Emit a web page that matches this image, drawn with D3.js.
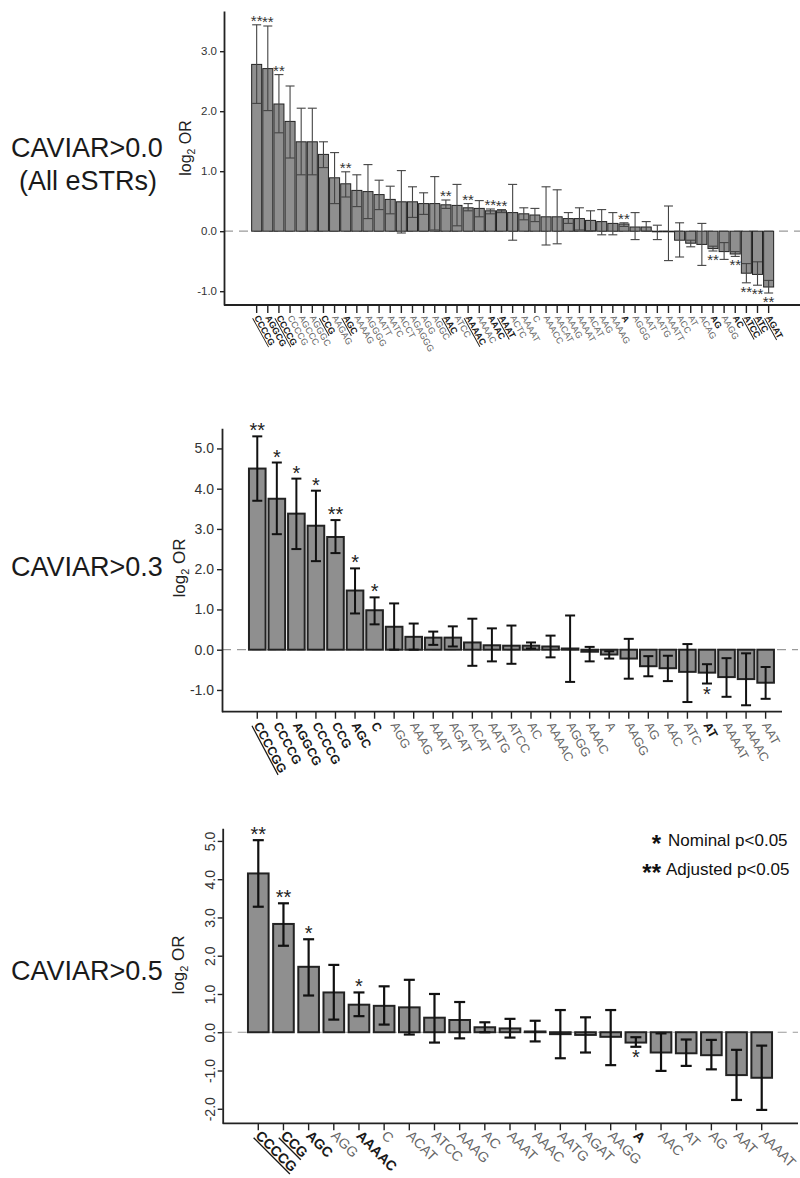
<!DOCTYPE html>
<html>
<head>
<meta charset="utf-8">
<script src="https://d3js.org/d3.v7.min.js"></script>
<style>
  body { margin: 0; background: #fff; }
  svg { font-family: "Liberation Sans", Arial, sans-serif; }
</style>
</head>
<body>
<script>
// ---- data ----
// emph: 0 plain, 1 bold, 2 bold + underlined ; sig: 1 = nominal (*), 2 = adjusted (**)
var p1Labels = ["CCCCG","AGGCG","CCCCG","CCCCG","AGCCC","AGGGC","CCG","AAGAG","AGC","AAAAG","AGGGG","AATT","AATC","ACCT","AGAGGG","AGG","AGGC","AAC","ATCC","AAAAC","AAAAC","AAAC","AAAT","ACTC","AAAAT","C","AAACC","AACAT","AAAG","AAAAT","ACAT","AAG","AAAAG","A","AGGG","AAT","AATG","AAATT","ACC","AT","ACAG","AG","AAGG","AC","ATCC","ATC","AGAT"]
var p1Values = [2.78,2.71,2.12,1.83,1.49,1.49,1.28,0.89,0.79,0.68,0.66,0.61,0.53,0.49,0.49,0.46,0.46,0.44,0.43,0.39,0.38,0.34,0.34,0.31,0.29,0.27,0.24,0.24,0.21,0.21,0.18,0.16,0.13,0.12,0.07,0.07,-0.01,-0.01,-0.15,-0.2,-0.22,-0.29,-0.34,-0.38,-0.7,-0.72,-0.93]
var p1Lo = [2.13,2.01,1.64,1.22,0.94,0.94,1.06,0.46,0.57,0.41,0.21,0.36,0.29,-0.03,0.23,0.28,0.02,0.38,0.09,0.34,0.24,0.29,0.31,-0.15,0.19,0.16,-0.23,-0.21,0.13,0.02,0.01,-0.06,-0.06,0.08,-0.14,0,-0.14,-0.49,-0.43,-0.26,-0.57,-0.33,-0.47,-0.42,-0.86,-0.9,-1.03]
var p1Hi = [3.44,3.42,2.61,2.42,2.05,2.05,1.49,1.31,0.99,0.94,1.11,0.85,0.75,1.01,0.74,0.64,0.91,0.52,0.78,0.46,0.51,0.37,0.36,0.78,0.39,0.38,0.74,0.69,0.31,0.39,0.34,0.36,0.31,0.14,0.31,0.16,0.1,0.42,0.14,-0.15,0.13,-0.25,-0.19,-0.34,-0.54,-0.51,-0.82]
var p1Sig = [2,2,2,0,0,0,0,0,2,0,0,0,0,0,0,0,0,2,0,2,0,2,2,0,0,0,0,0,0,0,0,0,0,2,0,0,0,0,0,0,0,2,0,2,2,2,2]
var p1Emph = [2,1,2,0,0,0,2,0,2,0,0,0,0,0,0,0,0,2,0,2,0,1,2,0,0,0,0,0,0,0,0,0,0,1,0,0,0,0,0,0,0,1,0,1,2,2,2]

var p2Labels = ["CCCCGG","CCCCG","AGGCG","CCCCG","CCG","AGC","C","AGG","AAAG","AAAT","AGAT","ACAT","AATG","ATCC","AC","AAAAC","AGGG","AAAC","A","AAGG","AG","AAC","ATC","AT","AAAAT","AAAAC","AAT"]
var p2Values = [4.5,3.75,3.38,3.08,2.8,1.47,0.98,0.57,0.32,0.3,0.3,0.18,0.11,0.1,0.1,0.08,0.03,-0.05,-0.12,-0.22,-0.41,-0.46,-0.55,-0.57,-0.68,-0.73,-0.82]
var p2Lo = [3.7,2.87,2.5,2.2,2.4,0.9,0.63,0,0,0.12,0.08,-0.4,-0.29,-0.35,0.03,-0.19,-0.8,-0.29,-0.22,-0.72,-0.66,-0.78,-1.3,-0.84,-1.17,-1.38,-1.22]
var p2Hi = [5.3,4.65,4.25,3.95,3.22,2.02,1.3,1.15,0.65,0.45,0.58,0.77,0.53,0.6,0.18,0.35,0.85,0.07,-0.04,0.27,-0.16,-0.15,0.14,-0.36,-0.21,-0.09,-0.43]
var p2Sig = [2,1,1,1,2,1,1,0,0,0,0,0,0,0,0,0,0,0,0,0,0,0,0,1,0,0,0]
var p2Emph = [2,1,1,1,1,1,1,0,0,0,0,0,0,0,0,0,0,0,0,0,0,0,0,1,0,0,0]

var p3Labels = ["CCCCG","CCG","AGC","AGG","AAAAC","C","ACAT","ATCC","AAAG","AC","AAAT","AAAC","AATG","AGAT","AAGG","A","AAC","AT","AG","AAT","AAAAT"]
var p3Values = [4.15,2.83,1.71,1.04,0.72,0.69,0.65,0.38,0.32,0.13,0.1,0.02,-0.05,-0.07,-0.12,-0.27,-0.53,-0.55,-0.6,-1.12,-1.19]
var p3Lo = [3.28,2.26,0.96,0.33,0.42,0.2,-0.06,-0.27,-0.16,0,-0.14,-0.24,-0.68,-0.53,-0.86,-0.38,-1.01,-0.88,-0.97,-1.77,-2.03]
var p3Hi = [5.02,3.37,2.43,1.76,1.04,1.2,1.37,1.0,0.79,0.26,0.35,0.3,0.58,0.39,0.58,-0.13,-0.03,-0.19,-0.2,-0.46,-0.35]
var p3Sig = [2,2,1,0,1,0,0,0,0,0,0,0,0,0,0,1,0,0,0,0,0]
var p3Emph = [2,2,1,0,1,0,0,0,0,0,0,0,0,0,0,1,0,0,0,0,0]

var yTicks1 = [-1, 0, 1, 2, 3]
var yTicks2 = [-1, 0, 1, 2, 3, 4, 5]
var yTicks3 = [-2, -1, 0, 1, 2, 3, 4, 5]

var legendStars = ["*", "**"]
var legendText = ["Nominal p<0.05", "Adjusted p<0.05"]

// ---- layout ----
var svg = d3.select("body").append("svg")
    .attr("width", 800)
    .attr("height", 1178)

var panels = [
  { labels: p1Labels, values: p1Values, lo: p1Lo, hi: p1Hi, sig: p1Sig, emph: p1Emph, yticks: yTicks1,
    ax: 224, xr: [251.1, 774.2], pad: 0.1, yd: [-1.23, 3.67], yr: [305, 11],
    xEnd: 800, dashEnd: 800, tickFont: 11.5, yTick: 4, xTick: 8, labFont: 9, rot: 61, labY: 316,
    errColor: "#444", errW: 1.1, cap: 9, starFont: 15, starColor: "#333", barStroke: 1,
    rotY: false, titleX: 185, titleY: 148, titleFont: 16,
    names: ["CAVIAR>0.0", "(All eSTRs)"], nameY: 157 },
  { labels: p2Labels, values: p2Values, lo: p2Lo, hi: p2Hi, sig: p2Sig, emph: p2Emph, yticks: yTicks2,
    ax: 222, xr: [247.5, 775.4], pad: 0.15, yd: [-1.54, 5.5], yr: [711.7, 428.3],
    xEnd: 782, dashEnd: 798, tickFont: 14, yTick: 5, xTick: 7, labFont: 12.5, rot: 62, labY: 723,
    errColor: "#111", errW: 2, cap: 10, starFont: 20, starColor: "#222", barStroke: 2,
    rotY: false, titleX: 179, titleY: 568, titleFont: 17,
    names: ["CAVIAR>0.3"], nameY: 576 },
  { labels: p3Labels, values: p3Values, lo: p3Lo, hi: p3Hi, sig: p3Sig, emph: p3Emph, yticks: yTicks3,
    ax: 222.7, xr: [245.7, 774.3], pad: 0.18, yd: [-2.38, 5.33], yr: [1123.3, 828.3],
    xEnd: 798, dashEnd: 798, tickFont: 14, yTick: 5, xTick: 7, labFont: 14, rot: 45, labY: 1133,
    errColor: "#111", errW: 2.2, cap: 11, starFont: 20, starColor: "#222", barStroke: 2,
    rotY: true, titleX: 178, titleY: 965, titleFont: 17,
    names: ["CAVIAR>0.5"], nameY: 980 }
]

panels.forEach(drawPanel)

function drawPanel(p) {
  var idx = d3.range(p.labels.length)
  var x = d3.scaleBand().domain(idx).range(p.xr).paddingInner(p.pad).paddingOuter(p.pad / 2)
  var y = d3.scaleLinear().domain(p.yd).range(p.yr)
  var g = svg.append("g")
  var cx = function(i) { return x(i) + x.bandwidth() / 2 }

  // zero line
  g.append("line")
      .attr("x1", p.ax).attr("x2", p.dashEnd)
      .attr("y1", y(0)).attr("y2", y(0))
      .attr("stroke", "#9a9a9a").attr("stroke-width", 1.2)
      .attr("stroke-dasharray", "9,6")

  // bars
  g.selectAll("rect.bar").data(p.values).enter()
    .append("rect")
      .attr("class", "bar")
      .attr("x", function(d, i) { return x(i) })
      .attr("width", x.bandwidth())
      .attr("y", function(d) { return y(Math.max(0, d)) })
      .attr("height", function(d) { return Math.abs(y(d) - y(0)) })
      .attr("fill", "#8f8f8f")
      .attr("stroke", "#222")
      .attr("stroke-width", p.barStroke)

  // error bars
  var eb = g.selectAll("g.err").data(idx).enter().append("g")
      .attr("stroke", p.errColor).attr("stroke-width", p.errW)
  eb.append("line")
      .attr("x1", cx).attr("x2", cx)
      .attr("y1", function(i) { return y(p.lo[i]) })
      .attr("y2", function(i) { return y(p.hi[i]) })
  ;["lo", "hi"].forEach(function(k) {
    eb.append("line")
        .attr("x1", function(i) { return cx(i) - p.cap / 2 })
        .attr("x2", function(i) { return cx(i) + p.cap / 2 })
        .attr("y1", function(i) { return y(p[k][i]) })
        .attr("y2", function(i) { return y(p[k][i]) })
  })

  // significance stars
  g.selectAll("text.star").data(idx.filter(function(i) { return p.sig[i] > 0 })).enter()
    .append("text")
      .attr("class", "star")
      .attr("x", cx)
      .attr("y", function(i) {
        if (p.values[i] >= 0) return y(Math.max(p.hi[i], p.values[i])) + 1
        return y(Math.min(p.lo[i], p.values[i])) + 3 + 0.72 * p.starFont
      })
      .attr("text-anchor", "middle")
      .attr("font-size", p.starFont)
      .attr("fill", p.starColor)
      .text(function(i) { return p.sig[i] == 2 ? "**" : "*" })

  // y axis
  var gy = g.append("g")
      .attr("transform", "translate(" + p.ax + ",0)")
      .call(d3.axisLeft(y).tickValues(p.yticks).tickSize(p.yTick).tickSizeOuter(0)
        .tickFormat(function(d) { return d.toFixed(1) }))
  gy.select(".domain").attr("stroke", "#222").attr("stroke-width", 1.8)
  gy.selectAll(".tick line").attr("stroke", "#222").attr("stroke-width", 1.4)
  gy.selectAll(".tick text").attr("font-size", p.tickFont).attr("fill", "#333")
      .attr("font-family", "Liberation Sans, Arial, sans-serif")
  if (p.rotY) {
    gy.selectAll(".tick text")
        .attr("x", 0).attr("dy", 0)
        .attr("text-anchor", "middle")
        .attr("transform", "translate(-8,0) rotate(-90)")
  }

  // x axis
  var gx = g.append("g")
      .attr("transform", "translate(0," + p.yr[0] + ")")
      .call(d3.axisBottom(x).tickSize(p.xTick).tickSizeOuter(0))
  gx.select(".domain").remove()
  gx.append("line").attr("x1", p.ax).attr("x2", p.xEnd)
      .attr("stroke", "#222").attr("stroke-width", 1.8)
  gx.selectAll(".tick line").attr("stroke", "#222").attr("stroke-width", 1.4)
  gx.selectAll(".tick text")
      .text(function(i) { return p.labels[i] })
      .attr("x", 0).attr("y", 0).attr("dy", "0.35em")
      .attr("text-anchor", "start")
      .attr("transform", "translate(0," + (p.labY - p.yr[0]) + ") rotate(" + p.rot + ")")
      .attr("font-size", p.labFont)
      .attr("font-family", "Liberation Sans, Arial, sans-serif")
      .attr("font-weight", function(i) { return p.emph[i] > 0 ? "bold" : "normal" })
      .attr("fill", function(i) { return p.emph[i] > 0 ? "#1a1a1a" : "#666" })
      .attr("text-decoration", function(i) { return p.emph[i] == 2 ? "underline" : null })

  // y title: log2 OR
  var t = g.append("text")
      .attr("transform", "translate(" + p.titleX + "," + p.titleY + ") rotate(-90)")
      .attr("text-anchor", "middle")
      .attr("dy", "0.35em")
      .attr("font-size", p.titleFont)
      .attr("fill", "#222")
  t.append("tspan").text("log")
  t.append("tspan").attr("font-size", p.titleFont * 0.65).attr("dy", 4).text("2")
  t.append("tspan").attr("dy", -4).text(" OR")

  // panel name on the left
  g.append("text")
      .attr("x", 11).attr("y", p.nameY)
      .attr("font-size", 27).attr("fill", "#1a1a1a")
      .text(p.names[0])
  if (p.names.length > 1) {
    g.append("text")
        .attr("x", 88).attr("y", p.nameY + 33)
        .attr("text-anchor", "middle")
        .attr("font-size", 27).attr("fill", "#1a1a1a")
        .text(p.names[1])
  }
}

// legend (bottom panel)
var lg = svg.append("g")
lg.selectAll("text.ls").data(legendStars).enter().append("text")
    .attr("x", 661).attr("y", function(d, i) { return 852 + i * 29 })
    .attr("text-anchor", "end")
    .attr("font-size", 24).attr("font-weight", "bold").attr("fill", "#111")
    .text(function(d) { return d })
lg.selectAll("text.lt").data(legendText).enter().append("text")
    .attr("x", function(d, i) { return i == 0 ? 668 : 666 })
    .attr("y", function(d, i) { return 846 + i * 29 })
    .attr("font-size", 17).attr("fill", "#111")
    .text(function(d) { return d })
</script>
</body>
</html>
